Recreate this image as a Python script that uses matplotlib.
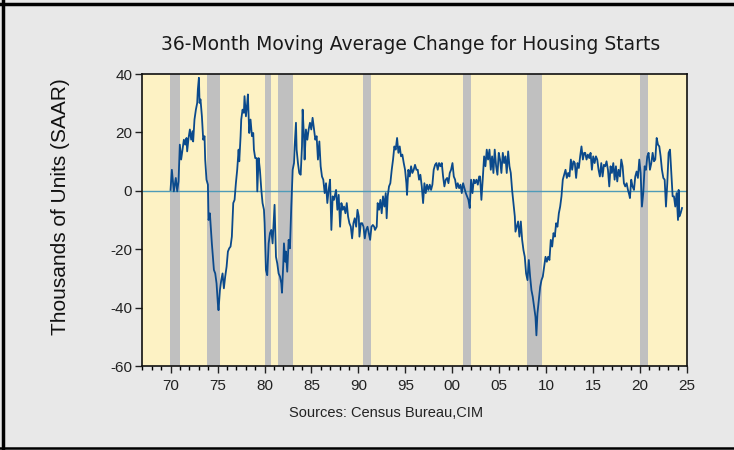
import matplotlib
matplotlib.use("Agg")
import matplotlib.pyplot as plt
from matplotlib.lines import Line2D
from matplotlib.ticker import MultipleLocator, FixedLocator

# 36-month moving average change (decimal year, thousands)
years = [
    1969.99, 1970.13, 1970.34, 1970.55, 1970.70, 1970.84, 1970.98, 1971.12, 1971.27, 1971.41,
    1971.55, 1971.69, 1971.76, 1971.91, 1972.05, 1972.19, 1972.33, 1972.40, 1972.54, 1972.69,
    1972.83, 1972.90, 1973.01, 1973.08, 1973.18, 1973.33, 1973.47, 1973.61, 1973.68, 1973.82,
    1973.97, 1974.04, 1974.18, 1974.39, 1974.61, 1974.75, 1974.89, 1975.03, 1975.10, 1975.25,
    1975.39, 1975.53, 1975.67, 1975.81, 1975.96, 1976.10, 1976.24, 1976.38, 1976.52, 1976.67,
    1976.81, 1976.95, 1977.09, 1977.24, 1977.31, 1977.45, 1977.52, 1977.66, 1977.80, 1977.87,
    1978.02, 1978.16, 1978.23, 1978.37, 1978.51, 1978.66, 1978.80, 1978.87, 1979.01, 1979.16,
    1979.23, 1979.37, 1979.51, 1979.66, 1979.79, 1979.94,
    1980.01, 1980.15, 1980.29, 1980.44, 1980.58, 1980.72, 1980.86, 1981.07, 1981.22, 1981.36,
    1981.50, 1981.65, 1981.79, 1981.86, 1982.00, 1982.07, 1982.21, 1982.28, 1982.42, 1982.57,
    1982.71, 1982.85, 1983.00, 1983.14, 1983.21, 1983.35, 1983.42, 1983.56, 1983.70, 1983.85,
    1983.99, 1984.06, 1984.20, 1984.27, 1984.41, 1984.56, 1984.70, 1984.84, 1984.98, 1985.12,
    1985.27, 1985.41, 1985.55, 1985.69, 1985.84, 1985.98, 1986.12, 1986.26, 1986.41, 1986.55,
    1986.69, 1986.83, 1986.98, 1987.12, 1987.26, 1987.40, 1987.62, 1987.76, 1987.90, 1988.05,
    1988.19, 1988.33, 1988.47, 1988.62, 1988.76, 1988.90, 1989.04, 1989.19, 1989.33, 1989.47,
    1989.61, 1989.76, 1989.90, 1990.04, 1990.11, 1990.26, 1990.40, 1990.54, 1990.68, 1990.82,
    1990.97, 1991.11, 1991.25, 1991.39, 1991.54, 1991.68,
    1991.77, 1991.95, 1992.05, 1992.20, 1992.34, 1992.48, 1992.62, 1992.77, 1992.91, 1993.01,
    1993.12, 1993.26, 1993.40, 1993.55, 1993.69, 1993.83, 1993.97, 1994.12, 1994.26, 1994.40,
    1994.54, 1994.68, 1994.83, 1994.97, 1995.11, 1995.18, 1995.32, 1995.47, 1995.61, 1995.75,
    1995.89, 1996.03, 1996.18, 1996.32, 1996.46, 1996.60, 1996.75, 1996.89, 1997.03, 1997.17,
    1997.31, 1997.46, 1997.60, 1997.74, 1997.88, 1998.02, 1998.17, 1998.31, 1998.45, 1998.59,
    1998.74, 1998.88, 1999.02, 1999.16, 1999.30, 1999.45, 1999.59, 1999.73, 1999.87, 2000.02,
    2000.16, 2000.30, 2000.44, 2000.58, 2000.73, 2000.87, 2001.01, 2001.15, 2001.29, 2001.44,
    2001.58, 2001.72, 2001.86, 2002.00, 2002.15, 2002.29, 2002.43, 2002.57, 2002.72, 2002.86,
    2002.96, 2003.10, 2003.24, 2003.39, 2003.53, 2003.67, 2003.81, 2003.96, 2004.10, 2004.24,
    2004.38, 2004.52, 2004.67, 2004.81, 2004.95, 2005.09, 2005.23, 2005.38, 2005.52, 2005.66,
    2005.80, 2005.95, 2006.09, 2006.23, 2006.37, 2006.51, 2006.66, 2006.73, 2006.87, 2007.01,
    2007.15, 2007.30, 2007.44, 2007.58, 2007.72, 2007.86, 2008.01, 2008.15, 2008.29, 2008.43,
    2008.57, 2008.72, 2008.86, 2008.96, 2009.07, 2009.21, 2009.36, 2009.50, 2009.64, 2009.78,
    2009.93, 2010.07, 2010.21, 2010.35, 2010.49, 2010.64, 2010.78, 2010.92, 2011.06, 2011.20,
    2011.35, 2011.49, 2011.63, 2011.77, 2011.92, 2012.06, 2012.20, 2012.34, 2012.48, 2012.63,
    2012.77, 2012.91, 2013.05, 2013.19, 2013.34, 2013.48, 2013.62, 2013.76, 2013.91, 2014.05,
    2014.16, 2014.30, 2014.44, 2014.59, 2014.73, 2014.87, 2015.01, 2015.16, 2015.30, 2015.44,
    2015.58, 2015.72, 2015.87, 2016.01, 2016.15, 2016.29, 2016.43, 2016.58, 2016.72, 2016.86,
    2017.00, 2017.15, 2017.29, 2017.43, 2017.57, 2017.71, 2017.86, 2018.00, 2018.14, 2018.28,
    2018.42, 2018.57, 2018.71, 2018.85, 2018.92, 2019.06, 2019.20, 2019.35, 2019.49, 2019.63,
    2019.77, 2019.92, 2020.06, 2020.20, 2020.34, 2020.49, 2020.63, 2020.77, 2020.91, 2021.05,
    2021.20, 2021.34, 2021.48, 2021.62, 2021.77, 2021.91, 2022.05, 2022.19, 2022.33, 2022.48,
    2022.62, 2022.76, 2022.90, 2023.04, 2023.19, 2023.33, 2023.47, 2023.61, 2023.75, 2023.89,
    2024.04, 2024.11, 2024.18, 2024.32, 2024.47,
]
change = [
    0.3, 7.2, -0.2, 4.4, -0.2, 3.2, 15.8, 10.7, 14.1, 17.5,
    15.8, 18.1, 13.5, 18.1, 21.0, 17.5, 20.4, 16.9, 24.4, 27.8,
    30.1, 34.7, 38.7, 30.1, 31.3, 25.5, 17.5, 18.7, 10.7, 3.8,
    2.1, -10.0, -7.7, -18.0, -27.1, -28.3, -31.7, -38.6, -40.9, -34.0,
    -30.6, -28.3, -33.4, -29.4, -26.0, -20.8, -19.7, -19.1, -15.7, -4.2,
    -3.1, 2.6, 7.2, 14.1, 10.1, 18.7, 24.4, 27.8, 26.7, 32.4,
    25.5, 30.1, 33.0, 19.8, 24.4, 18.7, 19.8, 14.1, 11.2, 11.2,
    -0.2, 11.2, 7.2, 0.3, -4.2, -6.5,
    -11.1, -27.1, -28.9, -18.0, -14.5, -13.4, -18.0, -4.8, -22.6, -24.9,
    -28.3, -29.4, -31.7, -34.9, -24.9, -18.0, -24.3, -20.8, -27.7, -16.8,
    -19.7, -5.4, 7.2, 9.5, 15.2, 23.3, 14.1, 9.5, 6.1, 5.5,
    15.2, 27.8, 18.7, 10.7, 21.0, 17.5, 21.0, 23.3, 21.0, 25.0,
    21.0, 17.5, 18.7, 10.7, 16.9, 8.4, 4.9, 3.8, -0.8, 2.6,
    -4.2, 0.3, 3.8, -13.4, -1.9, -3.1, 0.3, -6.5, -1.4, -12.3,
    -4.2, -6.5, -5.4, -7.7, -4.2, -8.8, -11.1, -12.3, -16.3, -11.1,
    -9.4, -12.3, -6.5, -8.8, -15.7, -11.1, -11.1, -12.3, -16.3, -13.4,
    -12.3, -14.5, -16.8, -12.3, -11.7, -12.3,
    -13.4, -12.3, -4.2, -6.5, -3.1, -7.7, -1.9, -5.4, -0.8, -9.4,
    -1.9, 1.5, 2.6, 7.2, 10.7, 15.2, 14.1, 18.1, 13.0, 15.2,
    11.8, 12.4, 9.5, 7.2, 2.6, -1.4, 7.2, 4.9, 8.4, 6.1,
    7.2, 8.9, 7.2, 7.2, 3.8, 5.5, 1.5, -4.2, 2.6, -0.8,
    2.1, 0.3, 2.1, 0.3, 2.1, 7.2, 8.9, 9.5, 7.2, 9.5,
    8.4, 9.5, 4.9, 1.5, 3.8, 4.4, 2.6, 6.1, 7.2, 9.5,
    4.9, 3.8, 0.9, 2.6, 0.9, 2.1, -0.8, 2.6, 0.9, -0.8,
    -1.9, -3.1, -5.9, 3.8, -0.8, 3.8, 2.6, 3.8, 2.1, 4.9,
    4.9, -3.1, 3.8, 11.8, 8.4, 14.1, 10.7, 14.1, 7.2, 11.8,
    6.1, 14.1, 8.4, 5.5, 13.0, 10.7, 6.1, 13.0, 9.5, 11.8,
    6.1, 13.5, 8.4, 6.1, 0.3, -4.2, -8.8, -14.0, -12.3, -10.5,
    -15.7, -10.5, -16.8, -20.3, -22.6, -28.3, -30.6, -23.7, -29.4, -34.0,
    -36.3, -39.8, -43.2, -49.5, -42.0, -37.5, -32.9, -30.6, -29.4, -26.0,
    -22.6, -24.3, -22.6, -23.7, -16.8, -19.1, -14.5, -15.7, -11.1, -12.3,
    -7.7, -5.4, -1.9, 3.8, 5.5, 7.2, 4.4, 6.1, 4.9, 10.7,
    7.2, 10.1, 9.5, 4.4, 9.5, 7.8, 11.8, 15.2, 10.7, 13.0,
    13.0, 10.7, 12.4, 11.2, 13.0, 7.2, 11.8, 9.5, 11.8, 10.7,
    7.2, 4.9, 9.5, 4.9, 8.9, 8.4, 10.1, 7.2, 1.5, 8.4,
    6.1, 9.5, 3.8, 8.4, 3.2, 7.2, 4.9, 10.7, 8.4, 2.6,
    1.5, 2.6, 0.3, -1.4, -2.5, 3.8, 1.5, 0.3, 4.9, 6.6,
    4.4, 10.7, 6.1, -5.4, -0.8, 8.4, 7.2, 11.8, 13.0, 7.2,
    9.5, 13.0, 10.1, 10.7, 18.1, 15.8, 15.2, 11.8, 7.2, 4.4,
    3.8, -5.4, 2.6, 13.0, 14.1, 6.1, -1.9, -1.9, -5.4, -0.8,
    -10.0, 0.3, -8.8, -7.7, -5.9,
]

# recession shading (start, end)
rec_start = [1969.92, 1973.89, 1980.04, 1981.46, 1990.52, 2001.12, 2007.94, 2020.02]
rec_end = [1971.05, 1975.25, 1980.68, 1983.06, 1991.31, 2001.97, 2009.54, 2020.80]

tick_years = list(range(1970, 2026, 5))
tick_labels = ["%02d" % (y % 100) for y in tick_years]

plt.rcParams["font.family"] = ["Liberation Sans", "DejaVu Sans"]
plt.rcParams["axes.unicode_minus"] = False

fig = plt.figure(figsize=(7.34, 4.5), dpi=100, facecolor="#e8e8e8")
ax = fig.add_axes([142 / 734, 1 - 366 / 450, 545 / 734, 292 / 450])
ax.set_facecolor("#fdf2c4")

for s, e in zip(rec_start, rec_end):
    ax.axvspan(s, e, color="#c0c0c0", lw=0, zorder=1)

ax.axhline(0, color="#4f9bb8", lw=1.0, zorder=2)
ax.plot(years, change, color="#0b4a8c", lw=1.3, zorder=3)

ax.set_xlim(1966.95, 2025.0)
ax.set_ylim(-60, 40)
ax.xaxis.set_major_locator(FixedLocator(tick_years))
ax.set_xticklabels(tick_labels)
ax.xaxis.set_minor_locator(MultipleLocator(1))
ax.yaxis.set_major_locator(MultipleLocator(20))

ax.tick_params(axis="both", which="major", direction="out", length=5, width=1,
               labelsize=11, colors="#222222", pad=2)
ax.tick_params(axis="x", which="minor", direction="out", length=3, width=1)
ax.tick_params(axis="x", which="major", pad=4)
for sp in ax.spines.values():
    sp.set_linewidth(1.2)
    sp.set_color("#111111")

# title is drawn wide in the original, DejaVu gets closer to that width
fig.text(411 / 734, 1 - 45 / 450, "36-Month Moving Average Change for Housing Starts",
         ha="center", va="center", fontsize=13.5, color="#1a1a1a", family="DejaVu Sans")
fig.text(60 / 734, 1 - 207 / 450, "Thousands of Units (SAAR)", rotation=90,
         ha="center", va="center", fontsize=15, color="#111111")
fig.text(386 / 734, 1 - 413 / 450, "Sources: Census Bureau,CIM",
         ha="center", va="center", fontsize=10.5, color="#222222")

# outer frame (left, top, bottom)
fig.add_artist(Line2D([2.5 / 734, 2.5 / 734], [0, 1], transform=fig.transFigure, color="black", lw=2.5))
fig.add_artist(Line2D([0, 1], [1 - 4 / 450, 1 - 4 / 450], transform=fig.transFigure, color="black", lw=2.5))
fig.add_artist(Line2D([0, 1], [1 - 448 / 450, 1 - 448 / 450], transform=fig.transFigure, color="black", lw=1.8))

fig.savefig("out.png", dpi=100, facecolor=fig.get_facecolor())
